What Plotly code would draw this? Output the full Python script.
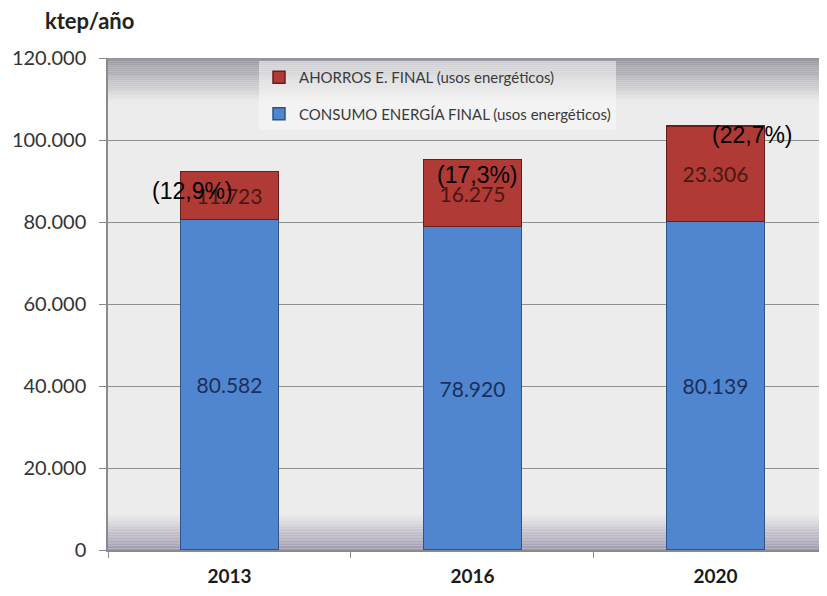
import plotly.graph_objects as go

# data
years = ["2013", "2016", "2020"]
consumo = [80582, 78920, 80139]
ahorros = [11723, 16275, 23306]
pct_labels = ["(12,9%)", "(17,3%)", "(22,7%)"]
y_ticks = [0, 20000, 40000, 60000, 80000, 100000, 120000]

totals = [c + a for c, a in zip(consumo, ahorros)]


def blend(c1, c2, t):
    return "rgb(%d,%d,%d)" % tuple(round(a + (b - a) * t) for a, b in zip(c1, c2))


fig = go.Figure()

fig.add_trace(go.Bar(
    x=years, y=consumo, name="CONSUMO ENERGÍA FINAL (usos energéticos)",
    legendgroup="c", legendrank=2, width=0.405,
    marker=dict(color="#4f86cf", line=dict(color="#2c5587", width=1.5)),
    texttemplate="%{y:,.0f}", textposition="inside", insidetextanchor="middle",
    textangle=0, textfont=dict(family="Lato", size=21, color="#1c2f5c"),
))
fig.add_trace(go.Bar(
    x=years, y=ahorros, name="AHORROS E. FINAL (usos energéticos)",
    legendgroup="a", legendrank=1, width=0.405,
    marker=dict(color="#b03a35", line=dict(color="#6a1d1a", width=1.5)),
    texttemplate="%{y:,.0f}", textposition="inside", insidetextanchor="middle",
    textangle=0, textfont=dict(family="Lato", size=21, color="#4a1714"),
))

# background gradient (top and bottom shading of the plot area)
shapes = []
n = 24
top_c, mid_c, bot_c = (150, 150, 158), (236, 236, 236), (160, 154, 176)
for i in range(n):
    y0 = 120000 - i * 11000 / n
    shapes.append(dict(type="rect", xref="paper", yref="y", x0=0, x1=1,
                       y0=y0 - 11000 / n, y1=y0, layer="below", line_width=0,
                       fillcolor=blend(top_c, mid_c, i / (n - 1))))
for i in range(n):
    y0 = i * 9000 / n
    shapes.append(dict(type="rect", xref="paper", yref="y", x0=0, x1=1,
                       y0=y0, y1=y0 + 9000 / n, layer="below", line_width=0,
                       fillcolor=blend(bot_c, mid_c, i / (n - 1))))

# percentage labels (category index, pixel shift from the bar top)
shifts = [(-37, -19), (5, -15), (37, -9)]
annotations = []
for i, (tot, lab, (dx, dy)) in enumerate(zip(totals, pct_labels, shifts)):
    annotations.append(dict(x=i, y=tot, text=lab, showarrow=False,
                            xshift=dx, yshift=dy,
                            font=dict(family="Liberation Sans", size=23, color="#000000")))
annotations.append(dict(x=-0.0894, y=1.077, xref="paper", yref="paper", text="<b>ktep/año</b>",
                        showarrow=False, xanchor="left", yanchor="middle",
                        font=dict(family="Lato", size=22, color="#222222")))

# the page adds an 8px body margin, so the margins below are shifted to compensate
fig.update_layout(
    width=827, height=596,
    margin=dict(l=100, r=0, t=50, b=54, autoexpand=False),
    barmode="stack",
    separators=",.",
    paper_bgcolor="white",
    plot_bgcolor="#ececec",
    shapes=shapes,
    annotations=annotations,
    legend=dict(x=0.2077, y=0.994, xanchor="left", yanchor="top",
                traceorder="grouped", tracegroupgap=14,
                itemwidth=30, bgcolor="rgba(250,250,250,0.55)",
                font=dict(family="Lato", size=15, color="#3a3a3a")),
)
fig.update_xaxes(range=[-0.5, 2.492], type="category", automargin=False, showline=True,
                 linecolor="#8a8a8a", linewidth=1.5, ticks="outside", tickson="boundaries",
                 ticklen=6, tickcolor="#8a8a8a", ticklabelstandoff=8,
                 tickfont=dict(family="Lato", size=19, color="#1a1a1a", weight="bold"))
fig.update_yaxes(range=[0, 120000], tickvals=y_ticks, tickformat=",.0f", automargin=False,
                 showline=True, linecolor="#8a8a8a", linewidth=1.5,
                 ticks="outside", ticklen=7, tickcolor="#8a8a8a", ticklabelstandoff=9,
                 gridcolor="#8f8f8f", gridwidth=1, zeroline=False,
                 tickfont=dict(family="Lato", size=20, color="#333333"))

fig.write_html("out.html")
